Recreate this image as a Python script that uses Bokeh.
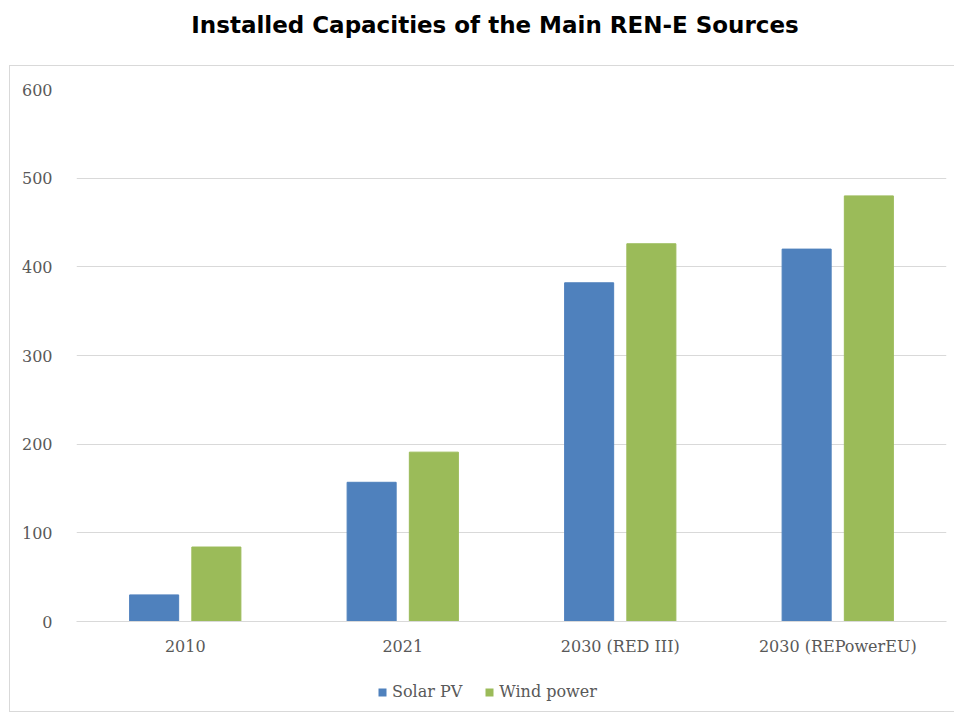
from bokeh.plotting import figure
from bokeh.layouts import column
from bokeh.models import Div, Legend, LegendItem, FactorRange, ColumnDataSource
from bokeh.transform import dodge
from bokeh.embed import file_html
from bokeh.resources import INLINE

# Installed capacity (GW) per scenario
categories = ["2010", "2021", "2030 (RED III)", "2030 (REPowerEU)"]
solar_pv = [30, 157, 382, 420]
wind_power = [84, 191, 426, 480]
y_ticks = [0, 100, 200, 300, 400, 500, 600]

SOLAR_BLUE = "#4f81bd"
WIND_GREEN = "#9bbb59"
TEXT_GREY = "#595959"
GRID_GREY = "#d9d9d9"
SERIF = "DejaVu Serif"

source = ColumnDataSource(dict(cat=categories, solar=solar_pv, wind=wind_power))

title = Div(
    text="Installed Capacities of the Main REN-E Sources",
    width=918, height=65, margin=(0, 0, 0, 36),
    styles={
        "font-family": "DejaVu Sans",
        "font-weight": "bold",
        "font-size": "23px",
        "color": "#000000",
        "text-align": "center",
        "width": "918px",
        "padding-top": "9px",
    },
)

# main bar chart
p = figure(
    x_range=FactorRange(*categories, range_padding=0),
    y_range=(0, 600),
    width=944, height=600,
    output_backend="svg", toolbar_location=None,
    min_border_left=66, min_border_right=8,
    min_border_top=23, min_border_bottom=45,
)
p.outline_line_color = None
p.background_fill_color = "white"
p.border_fill_color = "white"

p.vbar(x=dodge("cat", -0.143, range=p.x_range), top="solar", width=0.2255,
       source=source, fill_color=SOLAR_BLUE, line_color=SOLAR_BLUE)
p.vbar(x=dodge("cat", 0.143, range=p.x_range), top="wind", width=0.2255,
       source=source, fill_color=WIND_GREEN, line_color=WIND_GREEN)

p.xgrid.grid_line_color = None
p.ygrid.grid_line_color = GRID_GREY
p.ygrid.grid_line_width = 1
p.yaxis.ticker = y_ticks
p.yaxis.axis_line_color = None
p.yaxis.major_tick_line_color = None
p.yaxis.minor_tick_line_color = None
p.yaxis.major_label_standoff = 18
p.xaxis.axis_line_color = GRID_GREY
p.xaxis.major_tick_line_color = None
p.xaxis.minor_tick_line_color = None
p.xaxis.major_label_standoff = 9
for ax in (p.xaxis, p.yaxis):
    ax.major_label_text_font = SERIF
    ax.major_label_text_font_size = "16px"
    ax.major_label_text_color = TEXT_GREY

# legend strip under the chart; its swatch renderers have zero height
lf = figure(
    x_range=(0, 1), y_range=(0, 1),
    width=944, height=45,
    output_backend="svg", toolbar_location=None,
    x_axis_location=None, y_axis_location=None,
    min_border=0,
)
lf.outline_line_color = None
lf.grid.grid_line_color = None
swatch = ColumnDataSource(dict(x=[0.5], top=[0]))
k_solar = lf.vbar(x="x", top="top", width=0.01, source=swatch,
                  fill_color=SOLAR_BLUE, line_color=None)
k_wind = lf.vbar(x="x", top="top", width=0.01, source=swatch,
                 fill_color=WIND_GREEN, line_color=None)

legend = Legend(
    items=[LegendItem(label="Solar PV", renderers=[k_solar]),
           LegendItem(label="Wind power", renderers=[k_wind])],
    orientation="horizontal", location=(301, 10),
    glyph_width=10, glyph_height=10, spacing=22, label_standoff=5,
    label_text_font=SERIF, label_text_font_size="16px", label_text_color=TEXT_GREY,
    border_line_color=None, background_fill_alpha=0,
    padding=5, margin=0,
)
lf.add_layout(legend, "center")

chart = column(p, lf, spacing=0, margin=(0, 0, 0, 9),
               styles={"border": "1px solid #d9d9d9"})
layout = column(title, chart, spacing=0)
open("out.html", "w").write(file_html(layout, INLINE))
